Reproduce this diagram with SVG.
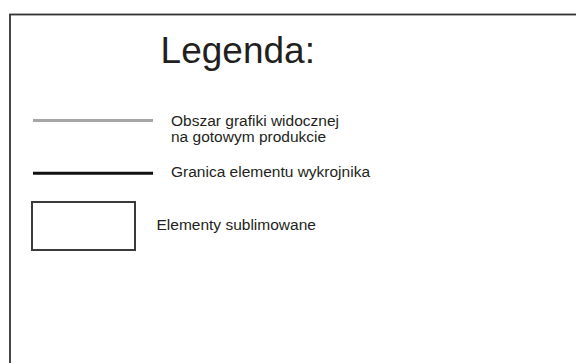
<svg xmlns="http://www.w3.org/2000/svg" width="576" height="363" viewBox="0 0 576 363">
<style>
text{font-family:"Liberation Sans",Arial,sans-serif;fill:#231f20}
.lbl{font-size:15.5px}
</style>
<rect width="576" height="363" fill="#ffffff"/>
<g id="frame"><rect x="10" y="14.5" width="620" height="400" fill="none" stroke="#333333" stroke-width="1.8"/></g>
<g id="title"><text x="160.6" y="62.5" font-size="37">Legenda:</text></g>
<g id="connectors">
<line x1="33" y1="120.5" x2="153" y2="120.5" stroke="#a6a6a6" stroke-width="3"/>
<line x1="33" y1="173.3" x2="153" y2="173.3" stroke="#111111" stroke-width="3"/>
</g>
<g id="item-grafika"><text class="lbl" x="171"><tspan x="171" y="125.5">Obszar grafiki widocznej</tspan><tspan x="171" y="141.5">na gotowym produkcie</tspan></text></g>
<g id="item-granica"><text class="lbl" x="171" y="177">Granica elementu wykrojnika</text></g>
<g id="item-sublimowane"><rect x="32" y="202" width="103" height="48" fill="none" stroke="#3a3a3a" stroke-width="2"/><text class="lbl" x="156.5" y="230">Elementy sublimowane</text></g>
</svg>
